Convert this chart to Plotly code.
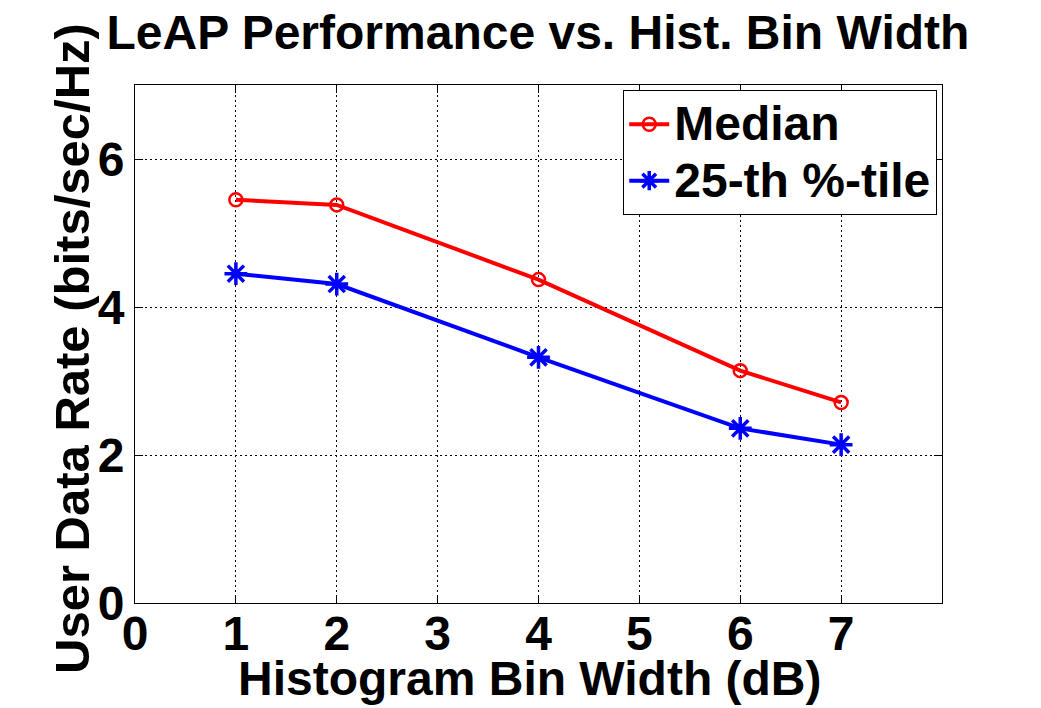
import plotly.graph_objects as go

bin_width = [1, 2, 4, 6, 7]
median_rate = [5.45, 5.38, 4.37, 3.14, 2.71]
p25_rate = [4.45, 4.31, 3.32, 2.36, 2.14]
x_ticks = [0, 1, 2, 3, 4, 5, 6, 7]
y_ticks = [0, 2, 4, 6]

FONT = "Liberation Sans, Arial, sans-serif"
FS = 48

fig = go.Figure()
fig.add_trace(go.Scatter(
    x=bin_width, y=median_rate, mode="lines+markers",
    name="<span style='font-size:48px'><b>Median</b></span>",
    line=dict(color="#ff0000", width=4),
    marker=dict(symbol="circle-open", size=13, color="#ff0000", line=dict(width=2.5, color="#ff0000")),
))
fig.add_trace(go.Scatter(
    x=bin_width, y=p25_rate, mode="lines+markers",
    name="<span style='font-size:48px'><b>25-th %-tile</b></span>",
    line=dict(color="#0000ff", width=4),
    marker=dict(symbol="asterisk-open", size=19, color="#0000ff", line=dict(width=3.5, color="#0000ff")),
))

axis_common = dict(
    showline=True, linecolor="black", linewidth=1, mirror="ticks",
    ticks="inside", ticklen=8, tickcolor="black",
    showgrid=True, gridcolor="black", griddash="2px,3px", gridwidth=1,
    zeroline=False,
    tickfont=dict(family=FONT, size=FS, color="black"),
)

fig.update_layout(
    width=1033, height=700, autosize=False,
    paper_bgcolor="white", plot_bgcolor="white",
    margin=dict(l=127, r=99, t=77, b=105, autoexpand=False),
    title=dict(text="<b>LeAP Performance vs. Hist. Bin Width</b>", x=0.513, xanchor="center",
               y=0.965, yanchor="middle",
               font=dict(family=FONT, size=FS, color="black")),
    xaxis=dict(range=[0, 8], tickvals=x_ticks, ticktext=[f"<b>{v}</b>" for v in x_ticks],
               ticklabelstandoff=-12, **axis_common),
    yaxis=dict(range=[0, 7], tickvals=y_ticks, ticktext=[f"<b>{v}</b>" for v in y_ticks],
               **axis_common),
    annotations=[
        dict(text="<b>User Data Rate (bits/sec/Hz)</b>", textangle=-90,
             xref="paper", yref="paper", x=0, y=0.5, xanchor="center", yanchor="middle",
             xshift=-63, yshift=-5, showarrow=False,
             font=dict(family=FONT, size=49, color="black")),
        dict(text="<b>Histogram Bin Width (dB)</b>",
             xref="paper", yref="paper", x=0.4895, y=0, xanchor="center", yanchor="middle",
             yshift=-75, showarrow=False,
             font=dict(family=FONT, size=FS, color="black")),
    ],
    legend=dict(x=0.605, y=0.99, xanchor="left", yanchor="top",
                bgcolor="white", bordercolor="black", borderwidth=1,
                font=dict(family=FONT, size=41, color="black"),
                tracegroupgap=0, itemwidth=40),
    showlegend=True,
)

fig.write_html("out.html")
